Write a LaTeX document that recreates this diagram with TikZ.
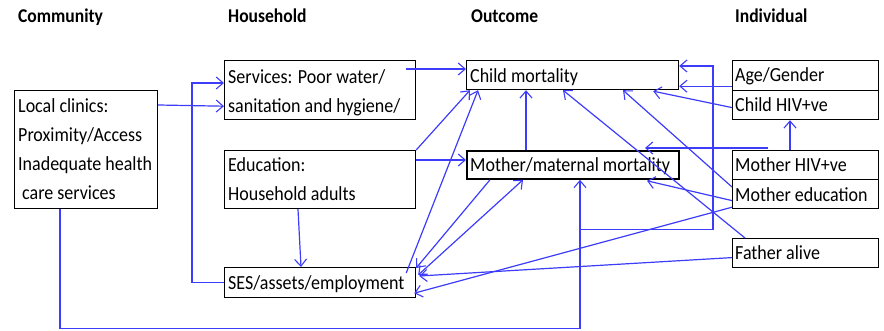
\documentclass[tikz,border=0pt]{standalone}
\usepackage{fontspec}
\setmainfont{Carlito}[FakeStretch=0.9]
\usetikzlibrary{arrows.meta,calc}
\definecolor{lnblue}{RGB}{60,60,250}
\begin{document}
\begin{tikzpicture}[x=1pt,y=-1pt,
  box/.style={draw=black,line width=1.2pt,inner sep=0pt,anchor=north west},
  txt/.style={anchor=base west,inner sep=0pt,font=\fontsize{20}{24}\selectfont},
  hdr/.style={anchor=base west,inner sep=0pt,font=\fontsize{19.5}{24}\selectfont\bfseries},
  con/.style={draw=lnblue,line width=1.2pt},
  arr/.style={con,-{Straight Barb[length=7pt,width=12pt,line width=1.1pt]}},
  darr/.style={con,{Straight Barb[length=7pt,width=12pt,line width=1.1pt]}-{Straight Barb[length=7pt,width=12pt,line width=1.1pt]}},
  ]
\useasboundingbox (0,0) rectangle (884,331);

% headers
\node[hdr] (hcom) at (18,23) {Community};
\node[hdr] (hhou) at (228,23) {Household};
\node[hdr] (hout) at (471,23) {Outcome};
\node[hdr] (hind) at (735,23) {Individual};

% boxes
\node[box,minimum width=143pt,minimum height=118pt] (clinics) at (14,90) {};
\node[box,minimum width=191pt,minimum height=59pt] (services) at (224,60) {};
\node[box,minimum width=191pt,minimum height=58pt] (educ) at (224,150) {};
\node[box,minimum width=191pt,minimum height=30pt] (ses) at (224,267) {};
\node[box,minimum width=212pt,minimum height=29pt] (cm) at (466,60) {};
\node[box,minimum width=212pt,minimum height=28pt,line width=1.8pt] (mm) at (466,150) {};
\node[box,minimum width=146pt,minimum height=30pt] (age) at (732,60) {};
\node[box,minimum width=146pt,minimum height=29pt] (chiv) at (732,90) {};
\node[box,minimum width=146pt,minimum height=29pt] (mhiv) at (732,150) {};
\node[box,minimum width=146pt,minimum height=29pt] (medu) at (732,179) {};
\node[box,minimum width=146pt,minimum height=29pt] (father) at (732,238) {};

% texts
\node[txt] (tc1) at (18,113) {Local clinics:};
\node[txt] (tc2) at (18,142) {Proximity/Access};
\node[txt] (tc3) at (18,171) {Inadequate health};
\node[txt] (tc4) at (22,200) {care services};
\node[txt] (ts1) at (228,84) {Services: Poor water/};
\node[txt] (ts2) at (228,113) {sanitation and hygiene/};
\node[txt] (te1) at (228,172) {Education:};
\node[txt] (te2) at (228,201) {Household adults};
\node[txt] (tses) at (228,290) {SES/assets/employment};
\node[txt] (tcm) at (470,83) {Child mortality};
\node[txt] (tmm) at (470,172) {Mother/maternal mortality};
\node[txt] (tage) at (735,82) {Age/Gender};
\node[txt] (tchiv) at (735,112) {Child HIV+ve};
\node[txt] (tmhiv) at (735,172) {Mother HIV+ve};
\node[txt] (tmedu) at (735,202) {Mother education};
\node[txt] (tfat) at (735,260) {Father alive};

% connectors
\draw[arr] ($(clinics.north east)+(0,15)$) -- ($(services.south west)+(0,-14)$);
\draw[arr] (ses.west) -- ++(-32,0) |- ($(services.north west)+(0,23)$);
\draw[arr] ($(services.north east)+(-10,9)$) -- ($(cm.north west)+(0,9)$);
\draw[arr] (educ.north east) -- ($(cm.south west)+(4,0)$);
\draw[arr] ($(educ.north east)+(0,10)$) -- ($(mm.north west)+(0,10)$);
\draw[arr] ($(educ.south west)+(74,0)$) -- ($(ses.north west)+(77,0)$);
\draw[arr] ($(ses.north east)+(-10,6)$) -- ($(cm.south west)+(12,0)$);
\draw[arr] ($(mm.south west)+(24,0)$) -- ($(ses.north east)+(0,1)$);
\draw[darr] ($(ses.north east)+(2,8)$) -- ($(mm.south west)+(57,0)$);
\draw[arr] ($(father.west)+(0,4.5)$) -- ($(ses.north east)+(3,9)$);
\draw[arr] ($(medu.south west)+(0,-2)$) -- ($(ses.south east)+(-2,-5)$);
\draw[arr] ($(clinics.south west)+(46,0)$) -- ++(0,119) -| ($(mm.south west)+(114,0)$);
\coordinate (jn) at ($(mm.south west)+(114,50)$);
\draw[arr] (jn) -- ++(133,0) |- ($(cm.north east)+(0,6)$);
\draw[arr] ($(age.south west)+(0,-5)$) -- ($(cm.south east)+(0,-4)$);
\draw[arr] ($(chiv.west)+(0,2.5)$) -- ($(cm.south east)+(-26,1)$);
\draw[arr] ($(mm.north west)+(60,0)$) -- ($(cm.south west)+(60,0)$);
\draw[arr] ($(medu.north west)+(0,8)$) -- ($(cm.south west)+(157,0)$);
\draw[arr] ($(father.north west)+(13,0)$) -- ($(cm.south west)+(97,0)$);
\draw[arr] ($(mhiv.north west)+(36,-2)$) -- ($(mm.north west)+(179,-2)$);
\draw[arr] ($(mhiv.north west)+(58,0)$) -- ($(chiv.south west)+(58,0)$);
\draw[arr] ($(medu.west)+(0,6.5)$) -- ($(mm.south west)+(181,1)$);
\end{tikzpicture}
\end{document}
